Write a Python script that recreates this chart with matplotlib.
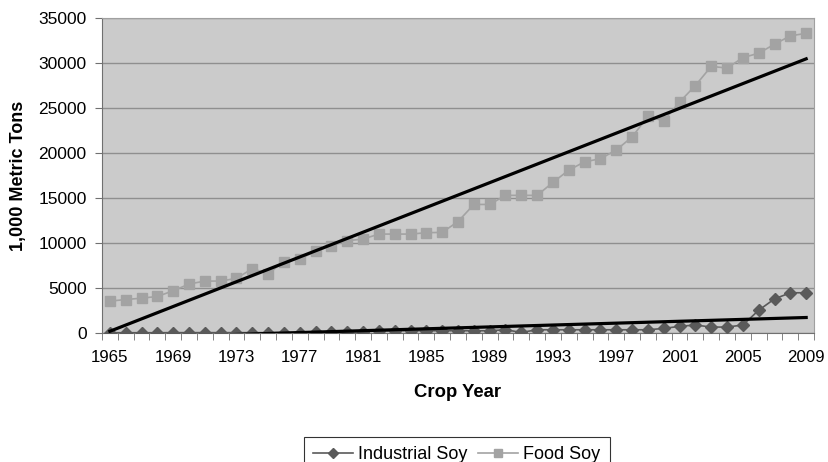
import matplotlib
matplotlib.use("Agg")
import matplotlib.pyplot as plt
import numpy as np

years = list(range(1965, 2010))

food_soy = [3550, 3730, 3880, 4070, 4700, 5450, 5780, 5780, 6080, 7160,
            6600, 7950, 8250, 9070, 9700, 10260, 10450, 11000, 11000, 11000,
            11150, 11190, 12390, 14290, 14290, 15300, 15300, 15300, 16750, 18100,
            19030, 19370, 20340, 21790, 24070, 23580, 25670, 27500, 29630, 29440,
            30600, 31090, 32090, 33020, 33300]

industrial_soy = [40, 40, 40, 40, 50, 50, 50, 50, 50, 50,
                  50, 60, 60, 70, 90, 110, 150, 250, 260, 260,
                  260, 260, 260, 260, 260, 370, 75, 370, 370, 370,
                  370, 370, 370, 370, 370, 520, 750, 900, 670, 670,
                  900, 2540, 3800, 4480, 4480]

plt.rcParams['font.family'] = ['Liberation Sans', 'DejaVu Sans']

fig = plt.figure(figsize=(8.29, 4.62), dpi=100)
ax = fig.add_axes([0.123, 0.279, 0.859, 0.682])

x = np.arange(len(years))

ax.set_facecolor("#cbcbcb")
ax.plot(x, industrial_soy, color="#5a5a5a", lw=1.2, marker="D", ms=6.5,
        mfc="#5a5a5a", mec="#5a5a5a", label="Industrial Soy", zorder=3)
ax.plot(x, food_soy, color="#a3a3a3", lw=1.2, marker="s", ms=7,
        mfc="#a3a3a3", mec="#a3a3a3", label="Food Soy", zorder=3)

# linear trend lines
for series in (industrial_soy, food_soy):
    k, b = np.polyfit(x, series, 1)
    ax.plot(x, k * x + b, color="black", lw=2.3, zorder=4)

ax.set_xlim(-0.5, len(years) - 0.5)
ax.set_ylim(0, 35000)
ax.set_yticks(range(0, 35001, 5000))
ax.yaxis.grid(True, color="#8f8f8f", lw=1)
ax.set_axisbelow(True)

ax.set_xticks(x[::4])
ax.set_xticklabels([str(y) for y in years[::4]])
ax.set_xticks(np.arange(-0.5, len(years), 1), minor=True)
ax.tick_params(axis="x", which="major", length=0, pad=12, labelsize=12.2)
ax.tick_params(axis="x", which="minor", length=5, color="#707070")
ax.tick_params(axis="y", length=5, color="#707070", labelsize=12.5, pad=6)

for side in ("top", "right"):
    ax.spines[side].set_color("#a0a0a0")
for side in ("left", "bottom"):
    ax.spines[side].set_color("#707070")

ax.set_ylabel("1,000 Metric Tons", fontweight="bold", fontsize=13, labelpad=8)
ax.set_xlabel("Crop Year", fontweight="bold", fontsize=13.3, labelpad=14)

leg = fig.legend(loc="upper center", bbox_to_anchor=(0.551, 0.074), ncol=2,
                 frameon=True, fancybox=False, edgecolor="black",
                 fontsize=13, handlelength=2.2, columnspacing=0.6,
                 handletextpad=0.3, borderpad=0.5, markerscale=0.75)
leg.get_frame().set_linewidth(0.8)

fig.savefig("out.png", dpi=100)
